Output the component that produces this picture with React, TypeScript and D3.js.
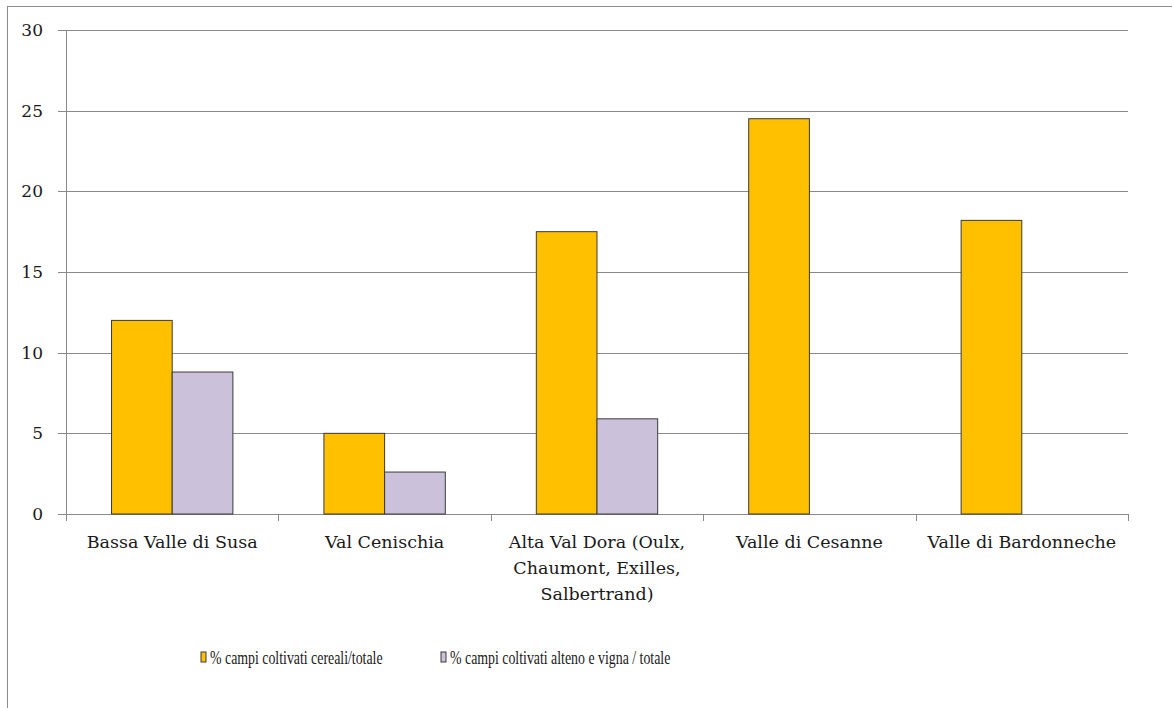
import React from "react";
import * as d3 from "d3";

// Valleys surveyed
const categories: string[][] = [
  ["Bassa Valle di Susa"],
  ["Val Cenischia"],
  ["Alta Val Dora (Oulx,", "Chaumont, Exilles,", "Salbertrand)"],
  ["Valle di Cesanne"],
  ["Valle di Bardonneche"],
];

// Share of fields (%) per valley
const cereali: (number | null)[] = [12, 5, 17.5, 24.5, 18.2];
const altenoVigna: (number | null)[] = [8.8, 2.6, 5.9, null, null];

const seriesNames = [
  "% campi coltivati cereali/totale",
  "% campi coltivati alteno e vigna / totale",
];
const seriesColors = ["#FFC000", "#CCC1DA"];

const yTicks = [0, 5, 10, 15, 20, 25, 30];

const W = 1172;
const H = 708;
const plot = { left: 66, right: 1128, top: 30, bottom: 514 };

export default function App() {
  const x = d3
    .scaleBand<number>()
    .domain(d3.range(categories.length))
    .range([plot.left, plot.right]);
  const y = d3.scaleLinear().domain([0, 30]).range([plot.bottom, plot.top]);

  // Excel-style clustered bars: gap width 75%
  const groupW = x.bandwidth() / 1.75;
  const inner = d3
    .scaleBand<number>()
    .domain([0, 1])
    .range([0, groupW])
    .padding(0);

  const series = [cereali, altenoVigna];
  const labelFont = "'DejaVu Serif', serif";
  const legendFont = "'Liberation Serif', serif";

  return (
    <svg
      width={W}
      height={H}
      style={{ position: "absolute", left: 0, top: 0, background: "#fff" }}
      fontFamily={labelFont}
    >
      <rect x={0} y={0} width={W} height={H} fill="#fff" />
      {/* chart frame */}
      <rect
        x={7.5}
        y={6.5}
        width={W + 20}
        height={H + 20}
        fill="none"
        stroke="#8c8c8c"
        strokeWidth={1}
      />

      {/* horizontal gridlines */}
      {yTicks.map((t) => (
        <g key={t}>
          <line
            x1={plot.left - 8}
            x2={plot.right}
            y1={Math.round(y(t)) + 0.5}
            y2={Math.round(y(t)) + 0.5}
            stroke="#8a8a8a"
            strokeWidth={1}
          />
          <text
            x={43}
            y={y(t) + 6}
            textAnchor="end"
            fontSize={17}
            fill="#1a1a1a"
          >
            {t}
          </text>
        </g>
      ))}

      {/* y axis */}
      <line
        x1={plot.left + 0.5}
        x2={plot.left + 0.5}
        y1={plot.top}
        y2={plot.bottom}
        stroke="#8a8a8a"
      />

      {/* category ticks */}
      {d3.range(categories.length + 1).map((i) => {
        const xx = Math.round(plot.left + i * x.step()) + 0.5;
        return (
          <line
            key={i}
            x1={xx}
            x2={xx}
            y1={plot.bottom}
            y2={plot.bottom + 7}
            stroke="#8a8a8a"
          />
        );
      })}

      {/* bars */}
      {categories.map((_, i) => {
        const gx = (x(i) as number) + (x.bandwidth() - groupW) / 2;
        return series.map((s, k) => {
          const v = s[i];
          if (v == null) return null;
          return (
            <rect
              key={`${i}-${k}`}
              x={gx + (inner(k) as number)}
              y={y(v)}
              width={inner.bandwidth()}
              height={y(0) - y(v)}
              fill={seriesColors[k]}
              stroke="#3a3a3a"
              strokeWidth={1}
            />
          );
        });
      })}

      {/* category labels */}
      {categories.map((lines, i) => (
        <text
          key={i}
          x={(x(i) as number) + x.bandwidth() / 2}
          y={548}
          textAnchor="middle"
          fontSize={17.5}
          fill="#1a1a1a"
        >
          {lines.map((l, j) => (
            <tspan key={j} x={(x(i) as number) + x.bandwidth() / 2} dy={j === 0 ? 0 : 26}>
              {l}
            </tspan>
          ))}
        </text>
      ))}

      {/* legend */}
      {seriesNames.map((name, k) => {
        const lx = [201, 441][k];
        return (
          <g key={k} fontFamily={legendFont}>
            <rect
              x={lx}
              y={652}
              width={5}
              height={10}
              fill={seriesColors[k]}
              stroke="#3a3a3a"
              strokeWidth={1}
            />
            <g transform={`translate(${lx + 9},0) scale(0.77,1)`}>
              <text x={0} y={664} fontSize={18} fill="#1a1a1a">
                {name}
              </text>
            </g>
          </g>
        );
      })}
    </svg>
  );
}
